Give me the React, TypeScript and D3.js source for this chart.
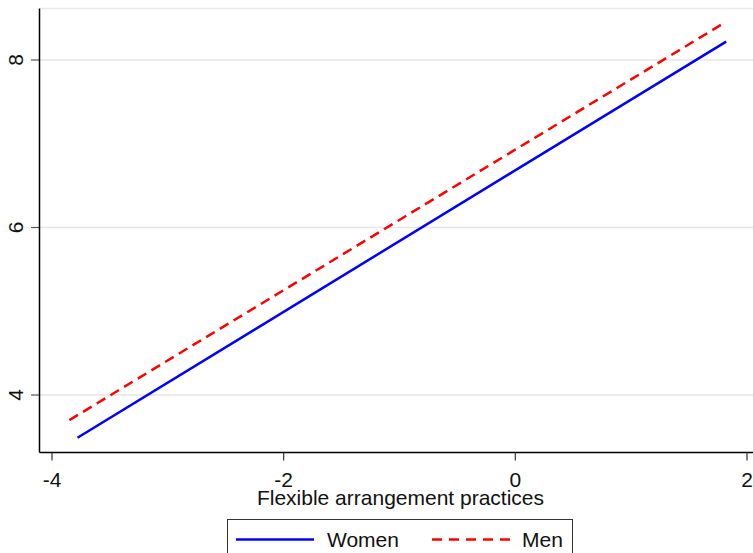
import React from "react";
import * as d3 from "d3";

const xTicks = [-4, -2, 0, 2];
const yTicks = [4, 6, 8];
const womenX = [-3.78, 1.82];
const womenY = [3.49, 8.22];
const menX = [-3.85, 1.8];
const menY = [3.7, 8.44];
const seriesNames = ["Women", "Men"];

export default function App() {
  const W = 753, H = 553;
  const x = d3.scaleLinear().domain([-4, 2]).range([52, 747]);
  const y = d3.scaleLinear().domain([4, 8]).range([395, 60]);
  const axL = 39.5, axB = 452.5, top = 8.5;
  const line = d3.line<[number, number]>().x(d => x(d[0])).y(d => y(d[1]));
  const women = womenX.map((v, i) => [v, womenY[i]] as [number, number]);
  const men = menX.map((v, i) => [v, menY[i]] as [number, number]);
  const font = "'Liberation Sans', Arial, sans-serif";
  return (
    <svg width={W} height={H} style={{ position: "fixed", left: 0, top: 0, background: "#fff" }} fontFamily={font}>
      <rect x={0} y={0} width={W} height={H} fill="#fff" />
      <line x1={axL} x2={W} y1={top} y2={top} stroke="#eaeaea" strokeWidth={1.5} />
      {yTicks.map(t => (
        <g key={t}>
          <line x1={axL} x2={W} y1={y(t)} y2={y(t)} stroke="#e6e6e6" strokeWidth={1.5} />
          <line x1={31} x2={axL} y1={y(t)} y2={y(t)} stroke="#555" strokeWidth={1.2} />
          <text transform={`translate(22.5,${y(t)}) rotate(-90)`} textAnchor="middle" fontSize={21} fill="#111">{t}</text>
        </g>
      ))}
      <path d={line(women) || ""} fill="none" stroke="#0000ff" strokeWidth={2.5} />
      <path d={line(men) || ""} fill="none" stroke="#ff0000" strokeWidth={2.5} strokeDasharray="10,6" />
      <line x1={axL} x2={axL} y1={top} y2={axB} stroke="#000" strokeWidth={1.5} />
      <line x1={axL} x2={W} y1={axB} y2={axB} stroke="#000" strokeWidth={1.5} />
      {xTicks.map(t => (
        <g key={t}>
          <line x1={x(t)} x2={x(t)} y1={axB} y2={axB + 8} stroke="#333" strokeWidth={1.2} />
          <text x={x(t)} y={486.5} textAnchor="middle" fontSize={21} fill="#111">{t}</text>
        </g>
      ))}
      <text x={400.5} y={504.5} textAnchor="middle" fontSize={21} fill="#111">Flexible arrangement practices</text>
      <rect x={227.5} y={519.5} width={345} height={50} fill="#fff" stroke="#333" strokeWidth={1} />
      <line x1={236} x2={314} y1={539.5} y2={539.5} stroke="#0000ff" strokeWidth={2.5} />
      <text x={327} y={547} fontSize={21} fill="#111">{seriesNames[0]}</text>
      <line x1={432} x2={510} y1={539.5} y2={539.5} stroke="#ff0000" strokeWidth={2.5} strokeDasharray="10,7" />
      <text x={522} y={547} fontSize={21} fill="#111">{seriesNames[1]}</text>
    </svg>
  );
}
